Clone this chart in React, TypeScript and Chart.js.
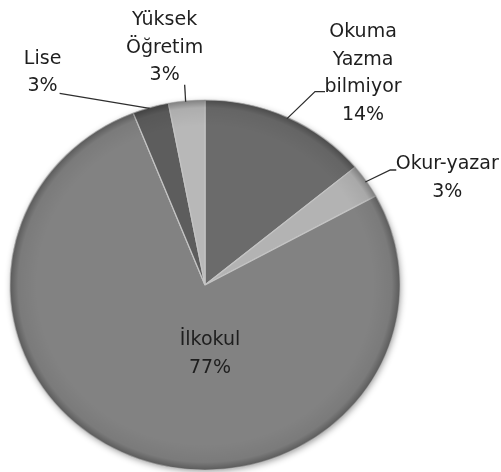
import React, { useEffect, useRef } from "react";
import { Chart, registerables } from "chart.js";

Chart.register(...registerables);

const categories = ["Okuma Yazma bilmiyor", "Okur-yazar", "İlkokul", "Lise", "Yüksek Öğretim"];
const labelLines = [["Okuma", "Yazma", "bilmiyor"], ["Okur-yazar"], ["İlkokul"], ["Lise"], ["Yüksek", "Öğretim"]];
const values = [14, 3, 77, 3, 3];
const percentLabels = ["14%", "3%", "77%", "3%", "3%"];
const sliceColors = ["#6b6b6b", "#b3b3b3", "#828282", "#5d5d5d", "#b8b8b8"];

// label layout: offset of text block centre from the slice's rim midpoint, and leader-line geometry
const labelLayout = [
  { inside: false, dx: 75, dy: -44, line: [[27, -26], [37, -26]] },
  { inside: false, dx: 81, dy: -3, line: [[24, -11], [30, -11]] },
  { inside: true, dx: 5, dy: 69, line: [] },
  { inside: false, dx: -108, dy: -35, line: [[-91, -14]] },
  { inside: false, dx: -22, dy: -53, line: [[-2, -16]] },
];

const SX = 195 / 190;
const SY = 185 / 190;
const FONT = "19px 'DejaVu Sans'";
const LINE_H = 27.5;

const ellipsePlugin = {
  id: "ellipseShade",
  beforeDatasetsDraw(chart: any) {
    const arc = chart.getDatasetMeta(0).data[0];
    if (!arc) return;
    const { x, y, outerRadius } = arc.getProps(["x", "y", "outerRadius"], true);
    const ctx = chart.ctx;
    ctx.save();
    ctx.translate(x, y);
    ctx.scale(SX, SY);
    ctx.translate(-x, -y);
    ctx.save();
    ctx.shadowColor = "rgba(0,0,0,0.45)";
    ctx.shadowBlur = 7;
    ctx.shadowOffsetX = 1;
    ctx.shadowOffsetY = 2;
    ctx.beginPath();
    ctx.arc(x, y, outerRadius - 1, 0, Math.PI * 2);
    ctx.fillStyle = "#808080";
    ctx.fill();
    ctx.restore();
  },
  afterDatasetsDraw(chart: any) {
    const arc = chart.getDatasetMeta(0).data[0];
    if (!arc) return;
    const { x, y, outerRadius } = arc.getProps(["x", "y", "outerRadius"], true);
    const ctx = chart.ctx;
    ctx.save();
    ctx.beginPath();
    ctx.arc(x, y, outerRadius, 0, Math.PI * 2);
    ctx.clip();
    const g = ctx.createRadialGradient(x, y, outerRadius * 0.86, x, y, outerRadius);
    g.addColorStop(0, "rgba(0,0,0,0)");
    g.addColorStop(0.7, "rgba(0,0,0,0.06)");
    g.addColorStop(1, "rgba(0,0,0,0.3)");
    ctx.fillStyle = g;
    ctx.fillRect(x - outerRadius, y - outerRadius, outerRadius * 2, outerRadius * 2);
    ctx.restore();
    ctx.restore();
  },
  afterDraw(chart: any) {
    const meta = chart.getDatasetMeta(0);
    const ctx = chart.ctx;
    ctx.save();
    ctx.font = FONT;
    ctx.textAlign = "center";
    ctx.textBaseline = "middle";
    meta.data.forEach((arc: any, i: number) => {
      const p = arc.getProps(["x", "y", "startAngle", "endAngle", "outerRadius"], true);
      const mid = (p.startAngle + p.endAngle) / 2;
      const lay = labelLayout[i];
      let ax: number, ay: number;
      if (lay.inside) {
        ax = p.x;
        ay = p.y;
      } else {
        ax = p.x + Math.cos(mid) * p.outerRadius * SX;
        ay = p.y + Math.sin(mid) * p.outerRadius * SY;
      }
      if (lay.line.length) {
        ctx.beginPath();
        ctx.strokeStyle = "#2e2e2e";
        ctx.lineWidth = 1.3;
        ctx.moveTo(ax - 1, ay + 1);
        lay.line.forEach((pt: number[]) => ctx.lineTo(ax + pt[0], ay + pt[1]));
        ctx.stroke();
      }
      const lines = [...labelLines[i], percentLabels[i]];
      const cx = ax + lay.dx;
      const cy = ay + lay.dy;
      const top = cy - ((lines.length - 1) * LINE_H) / 2;
      ctx.fillStyle = "#1e1e1e";
      lines.forEach((t, k) => ctx.fillText(t, cx, top + k * LINE_H));
    });
    ctx.restore();
  },
};

export default function App() {
  const ref = useRef<HTMLCanvasElement>(null);
  useEffect(() => {
    if (!ref.current) return;
    const chart = new Chart(ref.current, {
      type: "pie",
      data: {
        labels: categories,
        datasets: [
          {
            data: values,
            backgroundColor: sliceColors,
            borderColor: "#c4c4c4",
            borderWidth: 1.2,
            radius: 190,
            clip: false,
          } as any,
        ],
      },
      options: {
        responsive: false,
        animation: false,
        layout: { padding: { left: 0, right: 91, top: 80, bottom: 10 } },
        plugins: { legend: { display: false }, tooltip: { enabled: false } },
        events: [],
      },
      plugins: [ellipsePlugin],
    });
    return () => chart.destroy();
  }, []);
  return (
    <div style={{ position: "fixed", left: 0, top: 0, width: 501, height: 500, background: "#fff" }}>
      <canvas ref={ref} width={501} height={500} style={{ display: "block", width: 501, height: 500 }} />
    </div>
  );
}
